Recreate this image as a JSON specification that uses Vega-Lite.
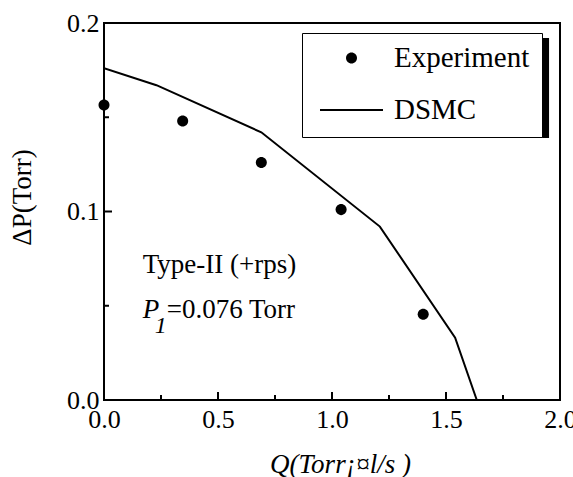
{
  "$schema": "https://vega.github.io/schema/vega-lite/v6.json",
  "autosize": {"type": "none"},
  "width": 456,
  "height": 377,
  "padding": {"left": 104, "top": 23, "right": 13, "bottom": 77},
  "background": "white",
  "datasets": {
    "xticks": [
      {"v": 0.25, "kind": "minor"}, {"v": 0.5, "kind": "major"}, {"v": 0.75, "kind": "minor"},
      {"v": 1.0, "kind": "major"}, {"v": 1.25, "kind": "minor"}, {"v": 1.5, "kind": "major"},
      {"v": 1.75, "kind": "minor"}
    ],
    "yticks": [
      {"v": 0.05, "kind": "minor"}, {"v": 0.1, "kind": "major"}, {"v": 0.15, "kind": "minor"}
    ]
  },
  "config": {
    "view": {"stroke": "black", "strokeWidth": 2},
    "font": "Liberation Serif",
    "axis": {
      "domain": false,
      "ticks": false,
      "grid": false,
      "labelFont": "Liberation Serif",
      "labelFontSize": 26,
      "labelColor": "black",
      "titleFont": "Liberation Serif",
      "titleFontSize": 27,
      "titleFontWeight": "normal",
      "titleColor": "black"
    }
  },
  "resolve": {"axis": {"x": "independent", "y": "independent"}},
  "layer": [
    {
      "data": {"values": [{"box": "shadow"}]},
      "mark": {"type": "rect", "color": "black"},
      "encoding": {
        "x": {"datum": 0.89, "type": "quantitative", "scale": {"domain": [0, 2], "nice": false}, "axis": null},
        "x2": {"datum": 1.952},
        "y": {"datum": 0.192, "type": "quantitative", "scale": {"domain": [0, 0.2], "nice": false}, "axis": null},
        "y2": {"datum": 0.139}
      }
    },
    {
      "data": {"name": "xticks"},
      "mark": {"type": "tick", "orient": "vertical", "color": "black", "opacity": 1, "thickness": 2, "clip": true},
      "encoding": {
        "x": {"field": "v", "type": "quantitative", "axis": null},
        "y": {"datum": 0, "type": "quantitative", "axis": null},
        "size": {"field": "kind", "type": "nominal", "scale": {"domain": ["major", "minor"], "range": [16, 10]}, "legend": null}
      }
    },
    {
      "data": {"name": "yticks"},
      "mark": {"type": "tick", "orient": "horizontal", "color": "black", "opacity": 1, "thickness": 2, "clip": true},
      "encoding": {
        "y": {"field": "v", "type": "quantitative", "axis": null},
        "x": {"datum": 0, "type": "quantitative", "axis": null},
        "size": {"field": "kind", "type": "nominal", "scale": {"domain": ["major", "minor"], "range": [16, 10]}, "legend": null}
      }
    },
    {
      "data": {"values": [
        {"Q": 0.0, "dP": 0.176, "series": "DSMC"},
        {"Q": 0.23, "dP": 0.167, "series": "DSMC"},
        {"Q": 0.69, "dP": 0.142, "series": "DSMC"},
        {"Q": 1.21, "dP": 0.092, "series": "DSMC"},
        {"Q": 1.54, "dP": 0.033, "series": "DSMC"},
        {"Q": 1.635, "dP": 0.0, "series": "DSMC"}
      ]},
      "mark": {"type": "line", "color": "black", "strokeWidth": 2, "clip": true},
      "encoding": {
        "x": {
          "field": "Q", "type": "quantitative",
          "scale": {"domain": [0, 2], "nice": false},
          "axis": {
            "orient": "bottom",
            "title": "Q(Torr¡¤l/s )",
            "titleFontStyle": "italic",
            "titleFontSize": 27,
            "titleX": 236,
            "titleY": 72,
            "titleAlign": "center",
            "titleBaseline": "alphabetic",
            "values": [0, 0.5, 1, 1.5, 2],
            "format": ".1f",
            "labelBaseline": "alphabetic",
            "labelPadding": 27,
            "labelFlush": false,
            "labelOverlap": false
          }
        },
        "y": {
          "field": "dP", "type": "quantitative",
          "scale": {"domain": [0, 0.2], "nice": false},
          "axis": {
            "orient": "left",
            "title": "ΔP(Torr)",
            "titleAngle": -90,
            "titleX": -82,
            "titleY": 174,
            "titleAlign": "center",
            "titleBaseline": "middle",
            "values": [0, 0.1, 0.2],
            "format": ".1f",
            "labelPadding": 5,
            "labelFlush": false,
            "labelOverlap": false
          }
        }
      }
    },
    {
      "data": {"values": [
        {"Q": 0.0, "dP": 0.1565, "series": "Experiment"},
        {"Q": 0.345, "dP": 0.148, "series": "Experiment"},
        {"Q": 0.69, "dP": 0.126, "series": "Experiment"},
        {"Q": 1.04, "dP": 0.101, "series": "Experiment"},
        {"Q": 1.40, "dP": 0.0455, "series": "Experiment"}
      ]},
      "mark": {"type": "point", "filled": true, "size": 3969, "color": "black", "opacity": 1, "strokeWidth": 0},
      "encoding": {
        "x": {"field": "Q", "type": "quantitative", "axis": null},
        "y": {"field": "dP", "type": "quantitative", "axis": null},
        "shape": {
          "field": "series", "type": "nominal",
          "scale": {
            "domain": ["Experiment", "DSMC"],
            "range": [
              "M -0.175,0 A 0.175,0.175 0 1,0 0.175,0 A 0.175,0.175 0 1,0 -0.175,0 Z",
              "M -1,-0.03 L 1,-0.03 L 1,0.03 L -1,0.03 Z"
            ]
          },
          "legend": {
            "orient": "none",
            "legendX": 198,
            "legendY": 10,
            "title": null,
            "columns": 1,
            "labelFont": "Liberation Serif",
            "labelFontSize": 29,
            "labelColor": "black",
            "symbolSize": 3969,
            "symbolStrokeWidth": 0,
            "symbolFillColor": "black",
            "symbolOffset": 6,
            "labelOffset": 11,
            "padding": 12,
            "rowPadding": 23,
            "clipHeight": 26,
            "strokeColor": "black",
            "fillColor": "white",
            "encode": {"legend": {"strokeWidth": {"value": 1.5}}}
          }
        }
      }
    },
    {
      "data": {"values": [{"t": "Type-II (+rps)"}]},
      "mark": {"type": "text", "align": "left", "baseline": "alphabetic", "fontSize": 27, "font": "Liberation Serif", "color": "black"},
      "encoding": {
        "x": {"datum": 0.17, "type": "quantitative", "axis": null},
        "y": {"datum": 0.0674, "type": "quantitative", "axis": null},
        "text": {"field": "t"}
      }
    },
    {
      "data": {"values": [{"t": "P"}]},
      "mark": {"type": "text", "align": "left", "baseline": "alphabetic", "fontSize": 27, "fontStyle": "italic", "font": "Liberation Serif", "color": "black"},
      "encoding": {
        "x": {"datum": 0.17, "type": "quantitative", "axis": null},
        "y": {"datum": 0.0435, "type": "quantitative", "axis": null},
        "text": {"field": "t"}
      }
    },
    {
      "data": {"values": [{"t": "1"}]},
      "mark": {"type": "text", "align": "left", "baseline": "alphabetic", "fontSize": 24, "fontStyle": "italic", "font": "Liberation Serif", "color": "black", "dx": 12, "dy": 15},
      "encoding": {
        "x": {"datum": 0.17, "type": "quantitative", "axis": null},
        "y": {"datum": 0.0435, "type": "quantitative", "axis": null},
        "text": {"field": "t"}
      }
    },
    {
      "data": {"values": [{"t": "=0.076 Torr"}]},
      "mark": {"type": "text", "align": "left", "baseline": "alphabetic", "fontSize": 27, "font": "Liberation Serif", "color": "black", "dx": 24},
      "encoding": {
        "x": {"datum": 0.17, "type": "quantitative", "axis": null},
        "y": {"datum": 0.0435, "type": "quantitative", "axis": null},
        "text": {"field": "t"}
      }
    }
  ]
}
